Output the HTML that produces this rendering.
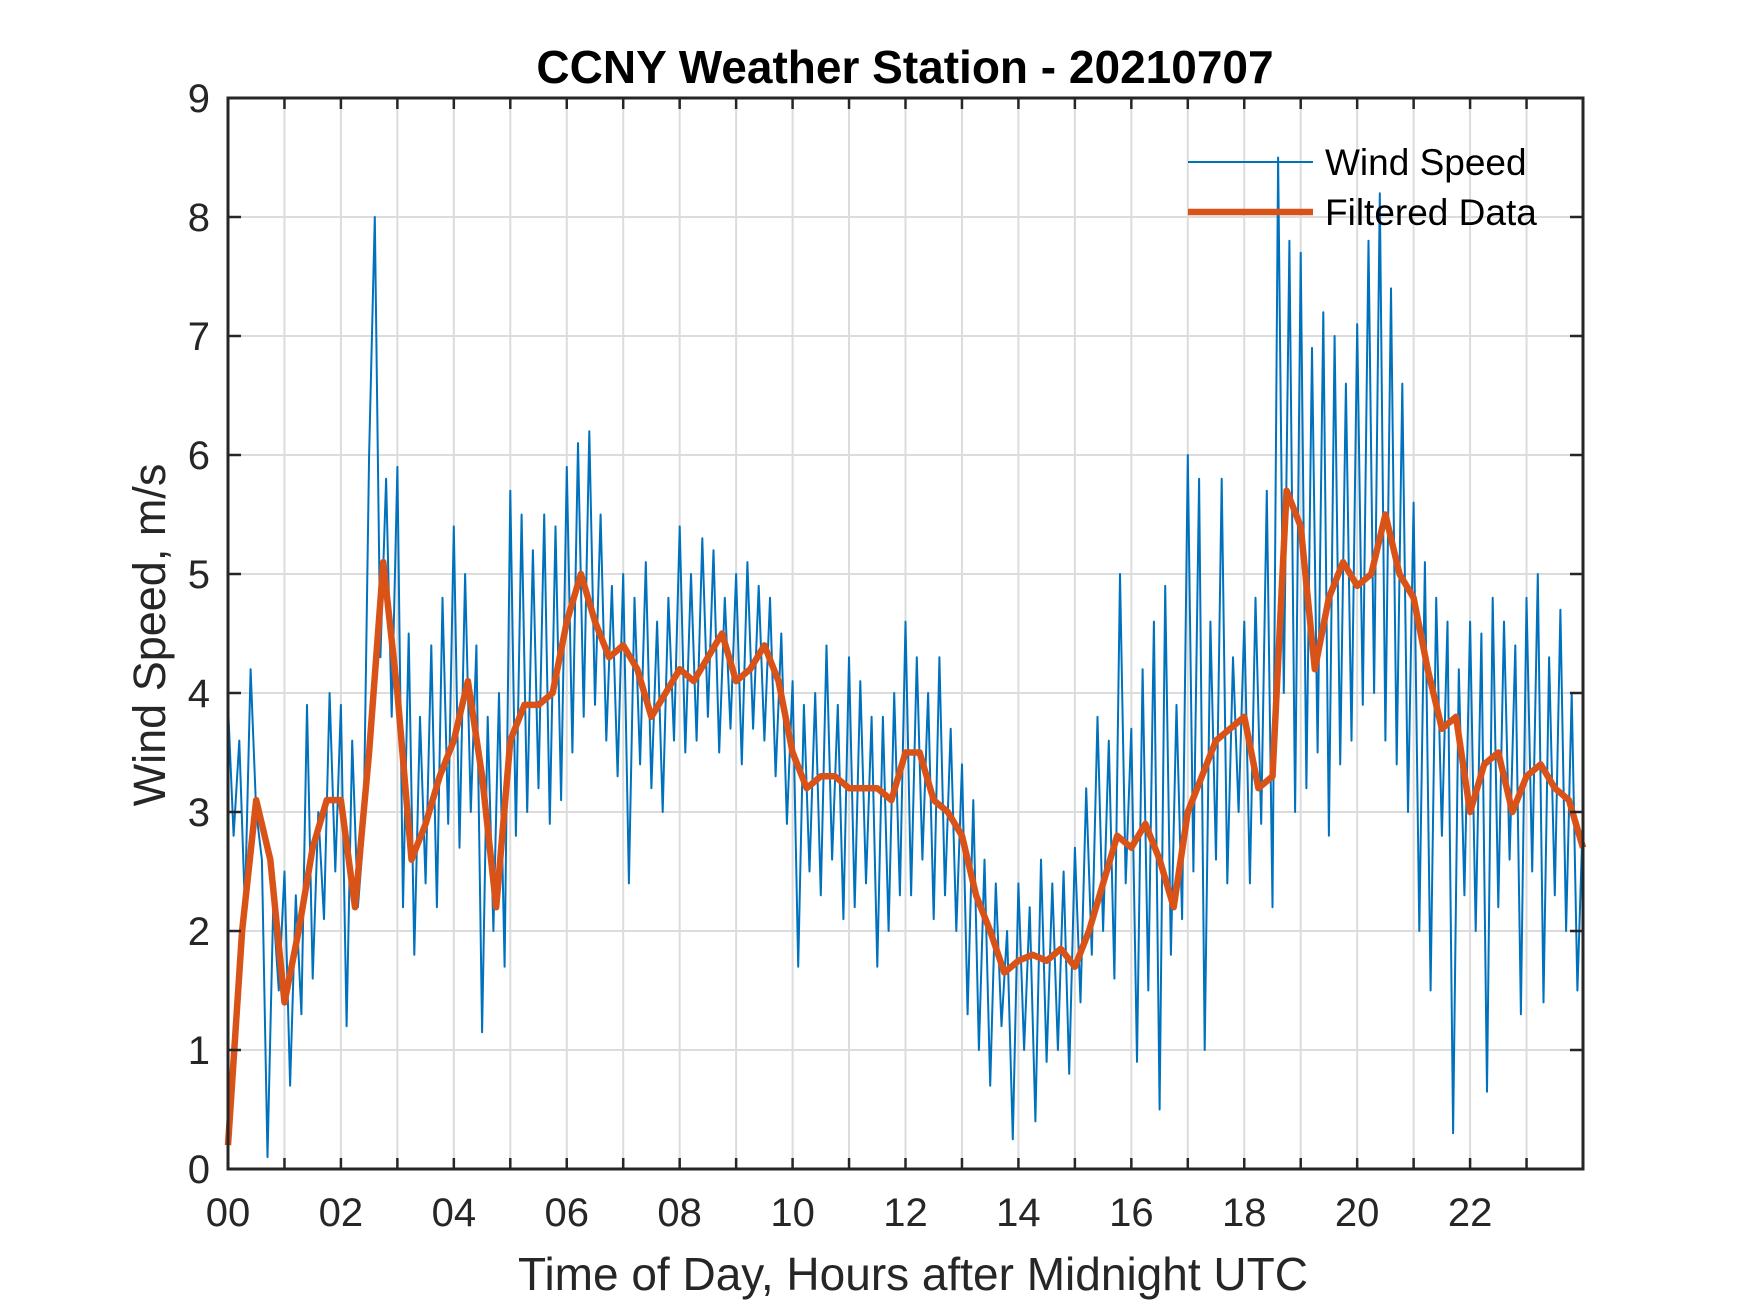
<!DOCTYPE html>
<html><head><meta charset="utf-8"><style>
html,body{margin:0;padding:0;background:#fff;}
svg{display:block;font-family:"Liberation Sans",Arial,sans-serif;}
</style></head><body>
<svg id="chart" width="1750" height="1313" viewBox="0 0 1750 1313">
<rect width="1750" height="1313" fill="#fff"/>
<g id="grid"></g>
<g id="series"></g>
<g id="axes"></g>
<text x="905" y="83" text-anchor="middle" font-size="46" font-weight="bold" fill="#000">CCNY Weather Station - 20210707</text>
<text x="913" y="1290" text-anchor="middle" font-size="46" fill="#262626">Time of Day, Hours after Midnight UTC</text>
<text transform="translate(165,635) rotate(-90)" text-anchor="middle" font-size="45" fill="#262626">Wind Speed, m/s</text>
<g>
<line x1="1188" y1="162" x2="1313" y2="162" stroke="#0072BD" stroke-width="2"/>
<text x="1325" y="175" font-size="37" fill="#000">Wind Speed</text>
<line x1="1188" y1="212" x2="1313" y2="212" stroke="#D95319" stroke-width="6.5"/>
<text x="1325" y="225" font-size="37" fill="#000">Filtered Data</text>
</g>
</svg>
<script>
const xTicks = [0,2,4,6,8,10,12,14,16,18,20,22];
const xTickLabels = ["00","02","04","06","08","10","12","14","16","18","20","22"];
const yTicks = [0,1,2,3,4,5,6,7,8,9];
const windStep = 0.1;
const windSpeed = [
3.9,2.8,3.6,2.2,4.2,3.0,2.6,0.1,2.2,1.5,
2.5,0.7,2.3,1.3,3.9,1.6,3.0,2.1,4.0,2.5,
3.9,1.2,3.6,2.2,2.8,6.0,8.0,4.3,5.8,3.8,
5.9,2.2,4.5,1.8,3.8,2.4,4.4,2.2,4.8,2.9,
5.4,2.7,5.0,3.0,4.4,1.15,3.8,2.0,4.0,1.7,
5.7,2.8,5.5,3.0,5.2,3.2,5.5,2.9,5.4,3.1,
5.9,3.5,6.1,3.8,6.2,3.9,5.5,3.6,4.9,3.3,
5.0,2.4,4.8,3.4,5.1,3.2,4.6,3.0,4.8,3.6,
5.4,3.5,5.0,3.6,5.3,3.8,5.2,3.5,4.8,3.7,
5.0,3.4,5.1,3.7,4.9,3.6,4.8,3.3,4.5,2.9,
4.1,1.7,3.9,2.5,4.0,2.3,4.4,2.6,3.9,2.1,
4.3,2.2,4.1,2.4,3.8,1.7,3.8,2.0,4.0,2.3,
4.6,2.3,4.3,2.6,4.0,2.1,4.3,2.3,3.7,2.0,
3.4,1.3,3.1,1.0,2.6,0.7,2.4,1.2,2.0,0.25,
2.4,1.0,2.2,0.4,2.6,0.9,2.4,1.0,2.5,0.8,
2.7,1.4,3.2,1.8,3.8,2.0,3.6,1.6,5.0,2.4,
3.7,0.9,4.2,1.5,4.6,0.5,4.9,1.8,3.9,2.1,
6.0,2.5,5.8,1.0,4.6,2.6,5.8,2.4,4.3,3.0,
4.6,2.4,4.8,2.9,5.7,2.2,8.5,4.0,7.8,3.0,
7.7,3.2,6.9,3.5,7.2,2.8,7.0,3.4,6.6,3.6,
7.1,3.9,7.8,4.0,8.2,3.6,7.4,3.4,6.6,3.0,
5.6,2.0,5.1,1.5,4.8,2.8,4.6,0.3,4.2,2.3,
4.6,2.0,4.5,0.65,4.8,2.2,4.6,2.6,4.4,1.3,
4.8,2.5,5.0,1.4,4.3,2.3,4.7,2.0,4.0,1.5,
3.0];
const filteredStep = 0.25;
const filtered = [
0.2,2.0,3.1,2.6,1.4,2.0,2.7,3.1,3.1,2.2,3.5,5.1,4.0,2.6,2.9,3.3,
3.6,4.1,3.3,2.2,3.6,3.9,3.9,4.0,4.6,5.0,4.6,4.3,4.4,4.2,3.8,4.0,
4.2,4.1,4.3,4.5,4.1,4.2,4.4,4.1,3.5,3.2,3.3,3.3,3.2,3.2,3.2,3.1,
3.5,3.5,3.1,3.0,2.8,2.3,2.0,1.65,1.75,1.8,1.75,1.85,1.7,2.0,2.4,2.8,
2.7,2.9,2.6,2.2,3.0,3.3,3.6,3.7,3.8,3.2,3.3,5.7,5.4,4.2,4.8,5.1,
4.9,5.0,5.5,5.0,4.8,4.2,3.7,3.8,3.0,3.4,3.5,3.0,3.3,3.4,3.2,3.1,2.7];

const X0=228, X1=1583, Y0=1169, Y1=98;
function xScale(h){return X0+(X1-X0)*h/24;}
function yScale(v){return Y0-(Y0-Y1)*v/9;}
const NS="http://www.w3.org/2000/svg";
function mk(tag,parent){const e=document.createElementNS(NS,tag);parent.appendChild(e);return e;}
const grid=document.getElementById('grid'), axes=document.getElementById('axes'), series=document.getElementById('series');

for(let h=1;h<24;h++){
  const l=mk('line',grid);
  
  
  l.setAttribute('x1',xScale(h));l.setAttribute('x2',xScale(h));
  l.setAttribute('y1',Y1);l.setAttribute('y2',Y0);
  l.setAttribute('stroke','#dcdcdc');l.setAttribute('stroke-width','2');
  [[Y0,Y0-11],[Y1,Y1+11]].forEach(p=>{
    const t=mk('line',axes);
    
    
    t.setAttribute('x1',xScale(h));t.setAttribute('x2',xScale(h));
    t.setAttribute('y1',p[0]);t.setAttribute('y2',p[1]);
    t.setAttribute('stroke','#262626');t.setAttribute('stroke-width','2.5');
  });
}
xTicks.forEach((h,i)=>{
  const t=mk('text',axes);
  
  
  t.setAttribute('x',xScale(h));t.setAttribute('y',1226);
  t.setAttribute('text-anchor','middle');t.setAttribute('font-size','40');t.setAttribute('fill','#262626');
  t.textContent=xTickLabels[i];
});
yTicks.forEach(v=>{
  if(v>0&&v<9){
    const l=mk('line',grid);
    
    
    l.setAttribute('x1',X0);l.setAttribute('x2',X1);
    l.setAttribute('y1',yScale(v));l.setAttribute('y2',yScale(v));
    l.setAttribute('stroke','#dcdcdc');l.setAttribute('stroke-width','2');
    [[X0,X0+13],[X1,X1-13]].forEach(p=>{
      const t=mk('line',axes);
      
      
      t.setAttribute('x1',p[0]);t.setAttribute('x2',p[1]);
      t.setAttribute('y1',yScale(v));t.setAttribute('y2',yScale(v));
      t.setAttribute('stroke','#262626');t.setAttribute('stroke-width','2.5');
    });
  }
  const t=mk('text',axes);
  
  
  t.setAttribute('x',210);t.setAttribute('y',yScale(v)+14);
  t.setAttribute('text-anchor','end');t.setAttribute('font-size','40');t.setAttribute('fill','#262626');
  t.textContent=String(v);
});
const box=mk('rect',axes);


box.setAttribute('x',X0);box.setAttribute('y',Y1);box.setAttribute('width',X1-X0);box.setAttribute('height',Y0-Y1);
box.setAttribute('fill','none');box.setAttribute('stroke','#262626');box.setAttribute('stroke-width','3');

const wp=mk('path',series);


wp.setAttribute('d',windSpeed.map((v,i)=>(i?'L':'M')+xScale(Math.min(24,i*windStep)).toFixed(1)+' '+yScale(v).toFixed(1)).join(''));
wp.setAttribute('fill','none');wp.setAttribute('stroke','#0072BD');wp.setAttribute('stroke-width','2');wp.setAttribute('stroke-linejoin','round');

const fp=mk('path',series);


fp.setAttribute('d',filtered.map((v,i)=>(i?'L':'M')+xScale(Math.min(24,i*filteredStep)).toFixed(1)+' '+yScale(v).toFixed(1)).join(''));
fp.setAttribute('fill','none');fp.setAttribute('stroke','#D95319');fp.setAttribute('stroke-width','6.5');fp.setAttribute('stroke-linejoin','round');
</script>
</body></html>
